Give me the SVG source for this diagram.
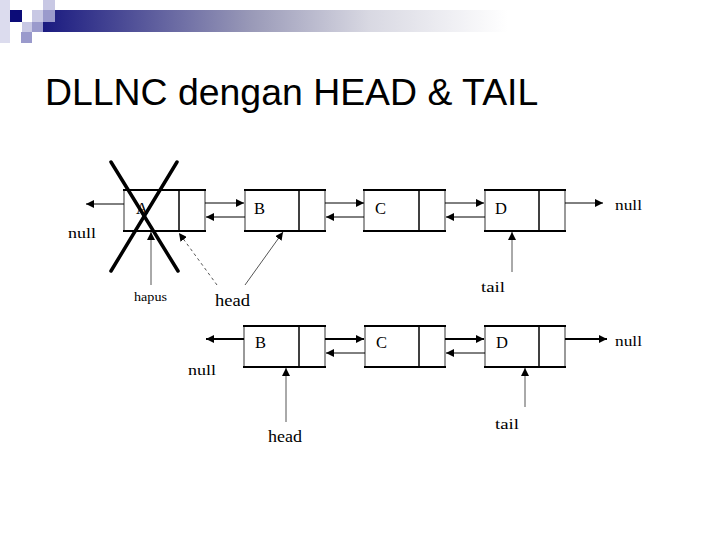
<svg xmlns="http://www.w3.org/2000/svg" width="720" height="540" viewBox="0 0 720 540">
<defs>
<linearGradient id="bar" x1="0" y1="0" x2="1" y2="0">
<stop offset="0" stop-color="#1a1a80"/>
<stop offset="0.45" stop-color="#9a9ab8"/>
<stop offset="0.7" stop-color="#d8d8e2"/>
<stop offset="1" stop-color="#ffffff"/>
</linearGradient>
<marker id="ah" viewBox="0 0 8 8" refX="8" refY="4" markerWidth="8" markerHeight="8" markerUnits="userSpaceOnUse" orient="auto">
<path d="M0,0 L8,4 L0,8 Z" fill="#000"/>
</marker>
</defs>
<style>
.box{fill:#fff;stroke:#000;stroke-width:2}
.side{stroke:#999;stroke-width:2}
.div{stroke:#000;stroke-width:1.5}
.ar{stroke:#000;stroke-width:1;fill:none;marker-end:url(#ah)}
.ar2{stroke:#000;stroke-width:2;fill:none;marker-end:url(#ah)}
.ptr{stroke:#555;stroke-width:1;fill:none;marker-end:url(#ah)}
.lbl{font-family:"Liberation Serif",serif;font-size:16.5px;fill:#000}
.sm{font-family:"Liberation Serif",serif;fill:#000}
.x{stroke:#000;stroke-width:3.5;stroke-linecap:round}
</style>
<g id="header">
<rect x="0" y="0" width="10" height="43" fill="#dcdcee"/>
<rect x="10" y="10" width="12" height="12" fill="#0c0c78"/>
<rect x="32" y="10" width="11" height="12" fill="#c8c8e4"/>
<rect x="43" y="0" width="12" height="10" fill="#c8c8e4"/>
<rect x="22" y="22" width="10" height="10" fill="#c8c8e4"/>
<rect x="32" y="22" width="11" height="10" fill="#9a9acc"/>
<rect x="21" y="32" width="11" height="11" fill="#9a9acc"/>
<rect x="43" y="10" width="465" height="22" fill="url(#bar)"/>
<rect x="43" y="10" width="12" height="12" fill="#9a9acc"/>
</g>
<text x="45" y="105" font-family="Liberation Sans,Arial,sans-serif" font-size="37.4" fill="#000">DLLNC dengan HEAD &amp; TAIL</text>

<g id="nodeA">
<rect class="box" x="124" y="190" width="81" height="41"/>
<line class="side" x1="124" y1="191" x2="124" y2="230"/>
<line class="side" x1="205" y1="191" x2="205" y2="230"/>
<line class="div" x1="179" y1="190" x2="179" y2="231"/>
<text class="lbl" x="136" y="214">A</text>
</g>
<g id="nodeB1">
<rect class="box" x="245" y="190" width="80" height="41"/>
<line class="side" x1="245" y1="191" x2="245" y2="230"/>
<line class="side" x1="325" y1="191" x2="325" y2="230"/>
<line class="div" x1="299" y1="190" x2="299" y2="231"/>
<text class="lbl" x="254" y="214">B</text>
</g>
<g id="nodeC1">
<rect class="box" x="364" y="190" width="81" height="41"/>
<line class="side" x1="364" y1="191" x2="364" y2="230"/>
<line class="side" x1="445" y1="191" x2="445" y2="230"/>
<line class="div" x1="419" y1="190" x2="419" y2="231"/>
<text class="lbl" x="375" y="214">C</text>
</g>
<g id="nodeD1">
<rect class="box" x="485" y="190" width="80" height="41"/>
<line class="side" x1="485" y1="191" x2="485" y2="230"/>
<line class="side" x1="565" y1="191" x2="565" y2="230"/>
<line class="div" x1="539" y1="190" x2="539" y2="231"/>
<text class="lbl" x="495" y="214">D</text>
</g>

<g id="nodeB2">
<rect class="box" x="244" y="326" width="81" height="41"/>
<line class="side" x1="244" y1="327" x2="244" y2="366"/>
<line class="side" x1="325" y1="327" x2="325" y2="366"/>
<line class="div" x1="299" y1="326" x2="299" y2="367" stroke-width="2.5"/>
<text class="lbl" x="255" y="348">B</text>
</g>
<g id="nodeC2">
<rect class="box" x="365" y="326" width="80" height="41"/>
<line class="side" x1="365" y1="327" x2="365" y2="366"/>
<line class="side" x1="445" y1="327" x2="445" y2="366"/>
<line class="div" x1="419" y1="326" x2="419" y2="367"/>
<text class="lbl" x="376" y="348">C</text>
</g>
<g id="nodeD2">
<rect class="box" x="485" y="326" width="80" height="41"/>
<line class="side" x1="485" y1="327" x2="485" y2="366"/>
<line class="side" x1="565" y1="327" x2="565" y2="366"/>
<line class="div" x1="539" y1="326" x2="539" y2="367"/>
<text class="lbl" x="496" y="348">D</text>
</g>

<g id="connectors">
<line class="ar" x1="124" y1="204" x2="86" y2="204"/>
<line class="ar" x1="205" y1="203" x2="244" y2="203"/>
<line class="ar" x1="245" y1="217" x2="206" y2="217"/>
<line class="ar" x1="325" y1="203" x2="364" y2="203"/>
<line class="ar" x1="364" y1="217" x2="326" y2="217"/>
<line class="ar" x1="445" y1="203" x2="484" y2="203"/>
<line class="ar" x1="485" y1="217" x2="446" y2="217"/>
<line class="ar" x1="565" y1="203" x2="603" y2="203"/>
<line class="ptr" x1="151" y1="285" x2="151" y2="232"/>
<line class="ptr" x1="217" y1="285" x2="179" y2="233" stroke-dasharray="3,3"/>
<line class="ptr" x1="245" y1="285" x2="283" y2="232"/>
<line class="ptr" x1="512" y1="272" x2="512" y2="232"/>

<line class="ar2" x1="244" y1="339" x2="206" y2="339"/>
<line class="ar2" x1="325" y1="339" x2="364" y2="339"/>
<line class="ar" x1="365" y1="353" x2="326" y2="353"/>
<line class="ar2" x1="445" y1="339" x2="484" y2="339"/>
<line class="ar" x1="485" y1="353" x2="446" y2="353"/>
<line class="ar2" x1="565" y1="339" x2="607" y2="339"/>
<line class="ptr" x1="286" y1="422" x2="286" y2="368"/>
<line class="ptr" x1="525" y1="407" x2="525" y2="368"/>
</g>
<g id="cross">
<line class="x" x1="111" y1="162" x2="178" y2="271"/>
<line class="x" x1="177" y1="162" x2="111" y2="271"/>
</g>
<g id="labels">
<text class="sm" x="68" y="238" font-size="15" textLength="28" lengthAdjust="spacingAndGlyphs">null</text>
<text class="sm" x="615" y="210" font-size="15" textLength="27" lengthAdjust="spacingAndGlyphs">null</text>
<text class="sm" x="134" y="301" font-size="13" textLength="33" lengthAdjust="spacingAndGlyphs">hapus</text>
<text class="sm" x="215" y="306" font-size="17" textLength="35" lengthAdjust="spacingAndGlyphs">head</text>
<text class="sm" x="481" y="292" font-size="15" textLength="24" lengthAdjust="spacingAndGlyphs">tail</text>
<text class="sm" x="188" y="375" font-size="15" textLength="28" lengthAdjust="spacingAndGlyphs">null</text>
<text class="sm" x="615" y="346" font-size="15" textLength="27" lengthAdjust="spacingAndGlyphs">null</text>
<text class="sm" x="268" y="442" font-size="17" textLength="34" lengthAdjust="spacingAndGlyphs">head</text>
<text class="sm" x="495" y="429" font-size="15" textLength="24" lengthAdjust="spacingAndGlyphs">tail</text>
</g>
</svg>
